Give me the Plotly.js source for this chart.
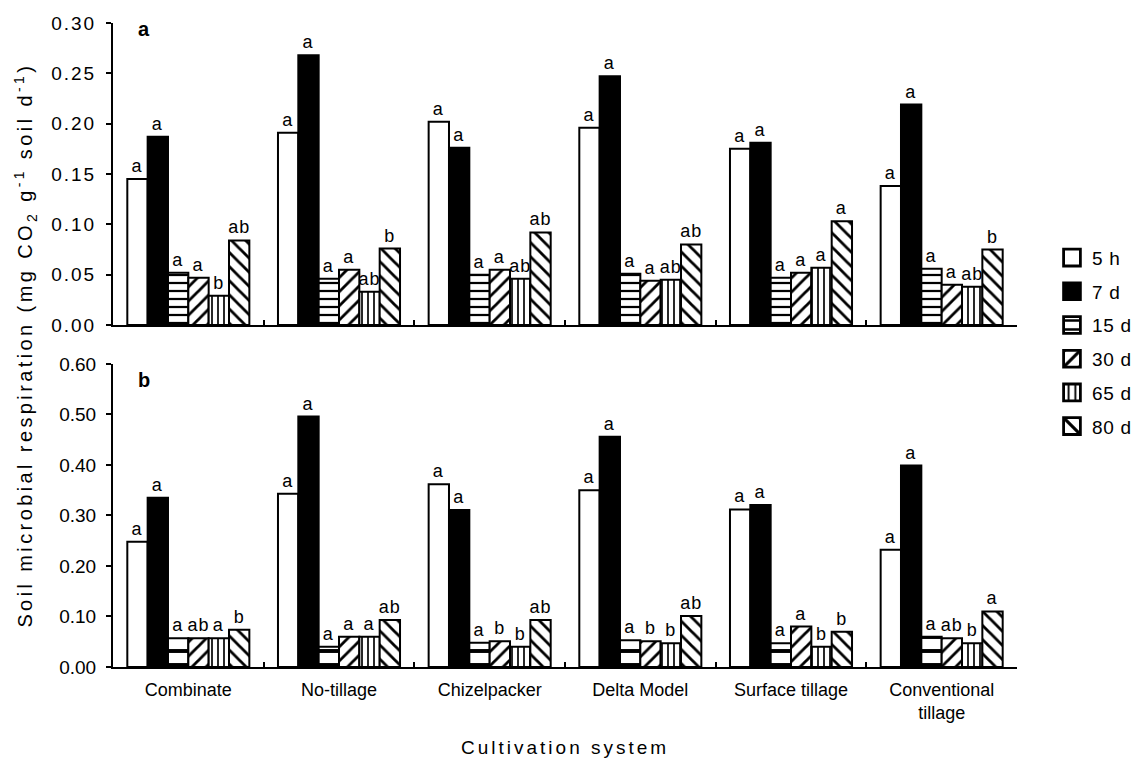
<!DOCTYPE html>
<html>
<head>
<meta charset="utf-8">
<script src="https://cdn.plot.ly/plotly-3.0.1.min.js"></script>
<style>
  html, body { margin: 0; padding: 0; background: #fff; }
  #chart { width: 1134px; height: 760px; }
  #chart .xtick text { letter-spacing: 2px; }
  #chart .ytick text { letter-spacing: 2px; }
  #chart text.bartext { letter-spacing: 1px; }
  #chart .annotation[data-index="2"] text { letter-spacing: 3.4px; }
  #chart .annotation[data-index="3"] text { letter-spacing: 3px; }
  #chart .legendtext { letter-spacing: 0.7px; }
</style>
</head>
<body>
<div id="chart"></div>
<script>
// Categories
const categories = ["Combinate", "No-tillage", "Chizelpacker", "Delta Model", "Surface tillage", "Conventional<br>tillage"];
const seriesNames = ["5 h", "7 d", "15 d", "30 d", "65 d", "80 d"];

// Panel a values (mg CO2 g-1 soil d-1)
const a_5h  = [0.145, 0.191, 0.202, 0.196, 0.175, 0.138];
const a_7d  = [0.187, 0.268, 0.176, 0.247, 0.181, 0.219];
const a_15d = [0.052, 0.046, 0.050, 0.051, 0.047, 0.056];
const a_30d = [0.047, 0.055, 0.055, 0.044, 0.052, 0.040];
const a_65d = [0.029, 0.033, 0.046, 0.045, 0.057, 0.038];
const a_80d = [0.084, 0.076, 0.092, 0.080, 0.103, 0.075];

// Panel a significance letters
const aL_5h  = ["a", "a", "a", "a", "a", "a"];
const aL_7d  = ["a", "a", "a", "a", "a", "a"];
const aL_15d = ["a", "a", "a", "a", "a", "a"];
const aL_30d = ["a", "a", "a", "a", "a", "a"];
const aL_65d = ["b", "ab", "ab", "ab", "a", "ab"];
const aL_80d = ["ab", "b", "ab", "ab", "a", "b"];

// Panel b values
const b_5h  = [0.248, 0.343, 0.362, 0.350, 0.312, 0.232];
const b_7d  = [0.335, 0.496, 0.311, 0.456, 0.321, 0.399];
const b_15d = [0.057, 0.040, 0.048, 0.053, 0.047, 0.060];
const b_30d = [0.057, 0.060, 0.051, 0.051, 0.080, 0.057];
const b_65d = [0.057, 0.060, 0.040, 0.047, 0.040, 0.047];
const b_80d = [0.074, 0.093, 0.093, 0.101, 0.070, 0.110];

// Panel b significance letters
const bL_5h  = ["a", "a", "a", "a", "a", "a"];
const bL_7d  = ["a", "a", "a", "a", "a", "a"];
const bL_15d = ["a", "a", "a", "a", "a", "a"];
const bL_30d = ["ab", "a", "b", "b", "a", "ab"];
const bL_65d = ["a", "a", "b", "b", "b", "b"];
const bL_80d = ["b", "ab", "ab", "ab", "b", "a"];

const FONT = "Liberation Sans, Arial, sans-serif";

// Styles per series
const styles = [
  {color: "#ffffff", shape: "",   sa: 8,  sb: 8},
  {color: "#000000", shape: "",   sa: 8,  sb: 8},
  {color: "#ffffff", shape: "-",  sa: 8,  sb: 14},
  {color: "#ffffff", shape: "/",  sa: 10, sb: 10},
  {color: "#ffffff", shape: "|",  sa: 6,  sb: 6},
  {color: "#ffffff", shape: "\\", sa: 10, sb: 10}
];

const panelA = [a_5h, a_7d, a_15d, a_30d, a_65d, a_80d];
const panelALetters = [aL_5h, aL_7d, aL_15d, aL_30d, aL_65d, aL_80d];
const panelB = [b_5h, b_7d, b_15d, b_30d, b_65d, b_80d];
const panelBLetters = [bL_5h, bL_7d, bL_15d, bL_30d, bL_65d, bL_80d];

function makeTrace(vals, letters, i, panel) {
  const st = styles[i];
  const marker = {
    color: st.color,
    line: {color: "#000000", width: 2}
  };
  if (st.shape) {
    marker.pattern = {
      shape: st.shape,
      size: panel === "a" ? st.sa : st.sb,
      solidity: 0.28,
      fgcolor: "#000000",
      bgcolor: "#ffffff",
      fillmode: "replace"
    };
  }
  return {
    type: "bar",
    name: seriesNames[i],
    x: categories,
    y: vals,
    text: letters,
    textposition: "outside",
    textfont: {family: FONT, size: 18, color: "#000"},
    constraintext: "none",
    cliponaxis: false,
    marker: marker,
    xaxis: panel === "a" ? "x" : "x2",
    yaxis: panel === "a" ? "y" : "y2",
    showlegend: panel === "a",
    legendgroup: "g" + i,
    hoverinfo: "skip"
  };
}

const data = [];
for (let i = 0; i < 6; i++) data.push(makeTrace(panelA[i], panelALetters[i], i, "a"));
for (let i = 0; i < 6; i++) data.push(makeTrace(panelB[i], panelBLetters[i], i, "b"));

const yaxisCommon = {
  showline: true, linecolor: "#000", linewidth: 2,
  ticks: "outside", ticklen: 5, tickwidth: 2, tickcolor: "#000",
  ticklabelstandoff: 6,
  showgrid: false, zeroline: false,
  tickformat: ".2f",
  tickfont: {family: FONT, size: 19, color: "#000"},
  fixedrange: true
};
const xaxisCommon = {
  type: "category",
  showline: true, linecolor: "#000", linewidth: 2,
  ticks: "inside", ticklen: 5, tickwidth: 2, tickcolor: "#000",
  tickson: "boundaries",
  ticklabelstandoff: 5,
  showgrid: false, zeroline: false,
  tickfont: {family: FONT, size: 18, color: "#000"},
  fixedrange: true
};

const layout = {
  width: 1134, height: 760,
  paper_bgcolor: "#fff", plot_bgcolor: "#fff",
  margin: {l: 113, r: 117, t: 23, b: 93, autoexpand: false},
  barmode: "group",
  bargap: 0.19,
  bargroupgap: 0,
  font: {family: FONT, color: "#000"},
  xaxis: Object.assign({}, xaxisCommon, {anchor: "y", showticklabels: false, domain: [0, 1]}),
  yaxis: Object.assign({}, yaxisCommon, {domain: [0.531, 1], range: [0, 0.30], dtick: 0.05}),
  xaxis2: Object.assign({}, xaxisCommon, {anchor: "y2", domain: [0, 1]}),
  yaxis2: Object.assign({}, yaxisCommon, {domain: [0, 0.4705], range: [0, 0.60], dtick: 0.1}),
  legend: {
    x: 1.0387, xanchor: "left", y: 0.665, yanchor: "top",
    font: {family: FONT, size: 19, color: "#000"},
    tracegroupgap: 6,
    bgcolor: "rgba(0,0,0,0)",
    traceorder: "grouped"
  },
  annotations: [
    {text: "<b>a</b>", xref: "paper", yref: "paper", x: 0.025, y: 0.99, xanchor: "left", yanchor: "middle",
     showarrow: false, font: {family: FONT, size: 20, color: "#000"}},
    {text: "<b>b</b>", xref: "paper", yref: "paper", x: 0.025, y: 0.445, xanchor: "left", yanchor: "middle",
     showarrow: false, font: {family: FONT, size: 20, color: "#000"}},
    {text: "Soil microbial respiration (mg CO<sub>2</sub> g<sup>-1</sup> soil d<sup>-1</sup>)",
     xref: "paper", yref: "paper", x: -0.0973, y: 0.5, xanchor: "center", yanchor: "middle",
     textangle: -90, showarrow: false, font: {family: FONT, size: 20, color: "#000"}},
    {text: "Cultivation system", xref: "paper", yref: "paper", x: 0.5, y: -0.125,
     xanchor: "center", yanchor: "middle", showarrow: false,
     font: {family: FONT, size: 19, color: "#000"}}
  ]
};

Plotly.newPlot("chart", data, layout, {displayModeBar: false, staticPlot: true}).then(function (gd) {
  // Enlarge legend swatches (keep Plotly's own placement transform, then scale)
  gd.querySelectorAll(".legendpoints path").forEach(function (p) {
    const t = p.getAttribute("transform") || "";
    p.setAttribute("transform", t + " scale(1.4)");
  });
});
</script>
</body>
</html>
